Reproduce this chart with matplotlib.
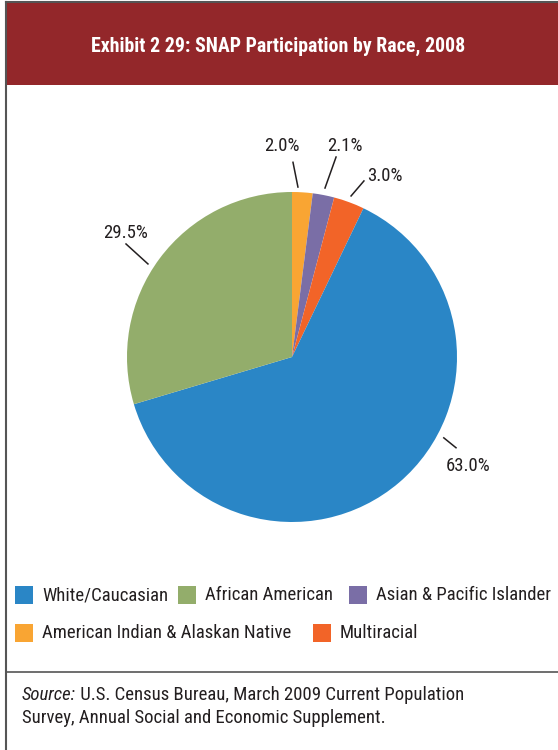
import matplotlib

matplotlib.use("Agg")
import matplotlib.pyplot as plt
from matplotlib.patches import Rectangle

plt.rcParams["font.family"] = ["Roboto Condensed", "DejaVu Sans"]

# SNAP participation by race, 2008 (percent), clockwise from 12 o'clock
groups = ["American Indian & Alaskan Native", "Asian & Pacific Islander",
          "Multiracial", "White/Caucasian", "African American"]
shares = [2.0, 2.1, 3.0, 63.0, 29.5]
labels = ["2.0%", "2.1%", "3.0%", "63.0%", "29.5%"]
legend_rows = [["White/Caucasian", "African American", "Asian & Pacific Islander"],
               ["American Indian & Alaskan Native", "Multiracial"]]

COLORS = {
    "White/Caucasian": "#2A86C6",
    "African American": "#93AD6B",
    "Asian & Pacific Islander": "#7A6EA6",
    "American Indian & Alaskan Native": "#F9A533",
    "Multiracial": "#F26428",
}
RED = "#93272A"
TEXT = "#231F20"
FRAME = "#555555"

W, H = 558, 750
fig = plt.figure(figsize=(W / 100, H / 100), dpi=100)

# background layer in pixel coordinates
bg = fig.add_axes([0, 0, 1, 1])
bg.set_xlim(0, W)
bg.set_ylim(H, 0)
bg.axis("off")
bg.add_patch(Rectangle((6, 3), W - 6, 82, color=RED, lw=0))
bg.plot([6, W], [2, 2], color=FRAME, lw=1.5)
bg.plot([6, 6], [2, H], color=FRAME, lw=1.5)
bg.plot([6, W], [672, 672], color=FRAME, lw=1.2)
bg.text(278, 46, "Exhibit 2 29: SNAP Participation by Race, 2008", color="white",
        fontsize=14.3, fontweight="bold", ha="center", va="center")

# legend: two free-flowing rows
leg_x = [[15, 178, 349], [15, 313]]
for row, xs, y in zip(legend_rows, leg_x, [595, 633]):
    for name, x in zip(row, xs):
        bg.add_patch(Rectangle((x, y - 9), 18, 18, color=COLORS[name], lw=0))
        bg.text(x + 27, y, name, fontsize=13.5, color=TEXT, va="center", ha="left")

src = bg.text(22, 695, "Source:", fontsize=13.5, style="italic", color=TEXT, va="center")
bg.annotate(" U.S. Census Bureau, March 2009 Current Population", xy=(1, 0.5),
            xycoords=src, va="center", ha="left", fontsize=13.5, color=TEXT)
bg.text(22, 718, "Survey, Annual Social and Economic Supplement.", fontsize=13.5,
        color=TEXT, va="center")

# pie: centre (292, 357) px, radius 165 px
R = 165
ax = fig.add_axes([(292 - 1.6 * R) / W, (H - 357 - 1.6 * R) / H, 3.2 * R / W, 3.2 * R / H])
ax.pie(shares, colors=[COLORS[g] for g in groups], startangle=90, counterclock=False,
       radius=1, wedgeprops=dict(lw=0))
ax.set_xlim(-1.6, 1.6)
ax.set_ylim(-1.6, 1.6)
ax.axis("off")

# label anchors and leader lines (pie units)
label_pos = [(-0.06, 1.28), (0.32, 1.28), (0.56, 1.10), (1.07, -0.66), (-1.01, 0.75)]
leaders = [((0.036, 1.03), (0.006, 1.18)),
           ((0.20, 1.024), (0.267, 1.212)),
           ((0.358, 0.976), (0.436, 1.067)),
           ((0.92, -0.49), (0.994, -0.55)),
           ((-0.873, 0.564), (-1.006, 0.685))]
for lab, (tx, ty), (p0, p1) in zip(labels, label_pos, leaders):
    ax.plot([p0[0], p1[0]], [p0[1], p1[1]], color=TEXT, lw=1.1)
    ax.text(tx, ty, lab, fontsize=13.5, color=TEXT, ha="center", va="center")

fig.savefig("out.png", dpi=100)
